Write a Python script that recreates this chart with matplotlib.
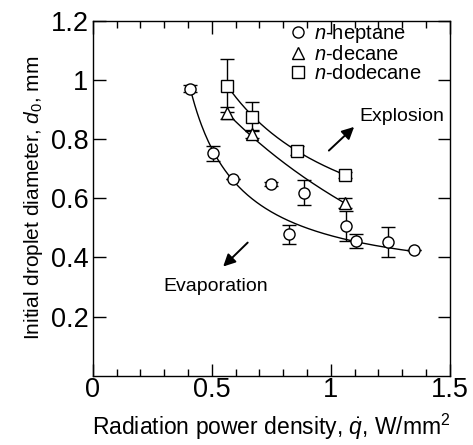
import numpy as np
import matplotlib
matplotlib.use("Agg")
import matplotlib.pyplot as plt
from matplotlib.ticker import MultipleLocator

plt.rcParams['font.family'] = ['Liberation Sans', 'DejaVu Sans']
plt.rcParams['mathtext.fontset'] = 'custom'
plt.rcParams['mathtext.rm'] = 'Liberation Sans'
plt.rcParams['mathtext.it'] = 'Liberation Sans:italic'

# ---- data ----
hep_x = [0.41, 0.506, 0.59, 0.747, 0.824, 0.887, 1.062, 1.105, 1.24, 1.349]
hep_y = [0.97, 0.752, 0.664, 0.648, 0.478, 0.619, 0.506, 0.455, 0.452, 0.425]
hep_e = [0.012, 0.025, 0.0, 0.006, 0.032, 0.043, 0.05, 0.025, 0.05, 0.0]

dec_x = [0.565, 0.667, 1.059]
dec_y = [0.887, 0.817, 0.583]
dec_e = [0.02, 0.012, 0.017]

dod_x = [0.565, 0.67, 0.856, 1.059]
dod_y = [0.98, 0.876, 0.761, 0.679]
dod_e = [0.09, 0.05, 0.015, 0.01]

# fitted curves: y = c + a / (x - x0), drawn over [xmin, xmax]
hep_fit = dict(c=0.297, a=0.1413, x0=0.2, xmin=0.41, xmax=1.349)
dec_fit = dict(c=-0.38, a=1.983, x0=-1.0, xmin=0.565, xmax=1.059)
dod_fit = dict(c=0.3346, a=0.3647, x0=0.0, xmin=0.565, xmax=1.059)

labels = ['$n$-heptane', '$n$-decane', '$n$-dodecane']
xticks = [0, 0.5, 1, 1.5]
yticks = [0.2, 0.4, 0.6, 0.8, 1, 1.2]

fig = plt.figure(figsize=(4.73, 4.45), dpi=100)
ax = fig.add_axes([0.196, 0.1557, 0.755, 0.7978])

def curve(p):
    xs = np.linspace(p['xmin'], p['xmax'], 200)
    return xs, p['c'] + p['a'] / (xs - p['x0'])

for p in (hep_fit, dec_fit, dod_fit):
    xs, ys = curve(p)
    ax.plot(xs, ys, color='black', lw=1.0, zorder=2)

ms = 8
handles = []
for x, y, e, m, lab in ((hep_x, hep_y, hep_e, 'o', labels[0]),
                        (dec_x, dec_y, dec_e, '^', labels[1]),
                        (dod_x, dod_y, dod_e, 's', labels[2])):
    ax.errorbar(x, y, yerr=e, fmt='none', ecolor='black', elinewidth=1.0,
                capsize=5, capthick=1.0, zorder=3)
    h, = ax.plot(x, y, linestyle='none', marker=m, ms=ms if m != '^' else ms + 0.5,
                 mfc='white', mec='black', mew=1.0, zorder=4, label=lab)
    handles.append(h)

ax.legend(handles=handles, loc='upper left', bbox_to_anchor=(0.548, 0.995),
          frameon=False, fontsize=14.5, handlelength=1.0, handletextpad=0.25,
          labelspacing=0.0, borderpad=0, borderaxespad=0)

ax.set_xlim(0, 1.5)
ax.set_ylim(0, 1.2)
ax.set_xticks(xticks)
ax.set_xticklabels(['0', '0.5', '1', '1.5'])
ax.set_yticks(yticks)
ax.set_yticklabels(['0.2', '0.4', '0.6', '0.8', '1', '1.2'])
ax.xaxis.set_minor_locator(MultipleLocator(0.1))
ax.tick_params(which='both', direction='in', top=True, right=True, width=1.0,
               labelsize=19.5)
ax.tick_params(axis='y', pad=3)
ax.tick_params(axis='x', pad=1)
ax.tick_params(which='major', length=9)
ax.tick_params(which='minor', length=5)
for s in ax.spines.values():
    s.set_linewidth(1.0)

ax.set_xlabel('Radiation power density, $\\dot{q}$, W/mm$^2$', fontsize=16.5, labelpad=6)
ax.set_ylabel('Initial droplet diameter, $d_0$, mm', fontsize=15, labelpad=4)

ax.annotate('', xy=(1.098, 0.841), xytext=(0.992, 0.761),
            arrowprops=dict(arrowstyle='-|>', color='black', lw=1.4,
                            mutation_scale=18, shrinkA=0, shrinkB=0))
ax.text(1.118, 0.875, 'Explosion', fontsize=14, ha='left', va='center')
ax.annotate('', xy=(0.548, 0.369), xytext=(0.651, 0.450),
            arrowprops=dict(arrowstyle='-|>', color='black', lw=1.4,
                            mutation_scale=18, shrinkA=0, shrinkB=0))
ax.text(0.518, 0.301, 'Evaporation', fontsize=14, ha='center', va='center')

fig.savefig('out.png', dpi=100)
